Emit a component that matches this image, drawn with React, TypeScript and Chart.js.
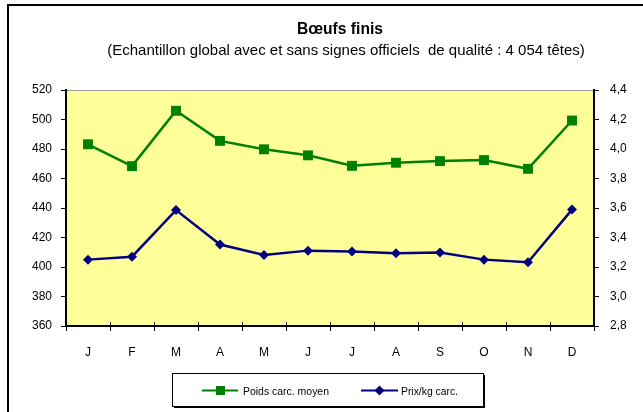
import React, { useEffect, useRef } from "react";
import { Chart, registerables } from "chart.js";
Chart.register(...registerables);

const months = ["J", "F", "M", "A", "M", "J", "J", "A", "S", "O", "N", "D"];
const poidsCarc = [483.2, 468.4, 505.9, 485.5, 479.8, 475.7, 468.6, 470.7, 471.8, 472.5, 466.6, 499.3];
const prixKg = [3.25, 3.27, 3.586, 3.352, 3.282, 3.311, 3.305, 3.293, 3.298, 3.25, 3.232, 3.589];
const leftMin = 360;
const leftMax = 520;
const leftStep = 20;
const rightMin = 2.8;
const rightMax = 4.4;
const rightStep = 0.2;
const titleText = "Bœufs finis";
const subtitleText = "(Echantillon global avec et sans signes officiels  de qualité : 4 054 têtes)";
const seriesNames = ["Poids carc. moyen", "Prix/kg carc."];

const FONT = "'Liberation Sans', Arial, sans-serif";
const GREEN = "#008000";
const NAVY = "#000080";

const decorPlugin = {
  id: "decor",
  beforeDraw(chart: any) {
    const { ctx, chartArea } = chart;
    ctx.save();
    ctx.fillStyle = "#ffffff";
    ctx.fillRect(0, 0, chart.width, chart.height);
    ctx.fillStyle = "#FFFF99";
    ctx.fillRect(chartArea.left, chartArea.top, chartArea.right - chartArea.left, chartArea.bottom - chartArea.top);
    ctx.strokeStyle = "#999999";
    ctx.lineWidth = 1;
    ctx.beginPath();
    ctx.moveTo(chartArea.left, chartArea.top + 0.5);
    ctx.lineTo(chartArea.right, chartArea.top + 0.5);
    ctx.stroke();
    ctx.restore();
  },
  afterDraw(chart: any) {
    const { ctx, chartArea } = chart;
    ctx.save();
    // outer frame
    ctx.strokeStyle = "#000";
    ctx.lineWidth = 2;
    ctx.strokeRect(8, 5, chart.width + 20, chart.height + 20);

    // upward part of x ticks
    const xs = chart.scales.x;
    ctx.lineWidth = 1;
    ctx.strokeStyle = "#000";
    for (let i = 0; i <= months.length; i++) {
      const px = Math.round(xs.getPixelForValue(i - 0.5)) + 0.5;
      ctx.beginPath();
      ctx.moveTo(px, chartArea.bottom - 4);
      ctx.lineTo(px, chartArea.bottom);
      ctx.stroke();
    }

    // title
    ctx.fillStyle = "#000";
    ctx.textAlign = "center";
    ctx.textBaseline = "middle";
    ctx.font = `bold 17px ${FONT}`;
    ctx.fillText(titleText, 340, 29, 86);
    ctx.font = `15px ${FONT}`;
    ctx.fillText(subtitleText, 346, 51, 478);

    // legend
    const lx = 172, ly = 373, lw = 311, lh = 33;
    ctx.fillStyle = "#fff";
    ctx.fillRect(lx, ly, lw, lh);
    ctx.strokeStyle = "#000";
    ctx.lineWidth = 1;
    ctx.strokeRect(lx + 0.5, ly + 0.5, lw, lh);
    ctx.lineWidth = 2;
    ctx.beginPath();
    ctx.moveTo(lx + lw + 1, ly + 2);
    ctx.lineTo(lx + lw + 1, ly + lh + 1);
    ctx.lineTo(lx + 2, ly + lh + 1);
    ctx.stroke();

    const cy = 390.5;
    ctx.lineWidth = 2;
    ctx.strokeStyle = GREEN;
    ctx.beginPath();
    ctx.moveTo(202, cy);
    ctx.lineTo(238, cy);
    ctx.stroke();
    ctx.fillStyle = GREEN;
    ctx.fillRect(216, cy - 4.5, 9, 9);

    ctx.strokeStyle = NAVY;
    ctx.beginPath();
    ctx.moveTo(361, cy);
    ctx.lineTo(398, cy);
    ctx.stroke();
    ctx.fillStyle = NAVY;
    ctx.beginPath();
    ctx.moveTo(379.5, cy - 5);
    ctx.lineTo(384.5, cy);
    ctx.lineTo(379.5, cy + 5);
    ctx.lineTo(374.5, cy);
    ctx.closePath();
    ctx.fill();

    ctx.fillStyle = "#000";
    ctx.textAlign = "left";
    ctx.font = `11px ${FONT}`;
    ctx.fillText(seriesNames[0], 243, cy + 1, 86);
    ctx.fillText(seriesNames[1], 401, cy + 1, 57);
    ctx.restore();
  },
};

export default function App() {
  const ref = useRef<HTMLCanvasElement>(null);
  useEffect(() => {
    if (!ref.current) return;
    const chart = new Chart(ref.current, {
      type: "line",
      data: {
        labels: months,
        datasets: [
          {
            label: seriesNames[0],
            data: poidsCarc,
            yAxisID: "y",
            borderColor: GREEN,
            backgroundColor: GREEN,
            borderWidth: 2.5,
            pointStyle: "rect",
            pointRadius: 7,
            pointBorderWidth: 0,
            tension: 0,
          },
          {
            label: seriesNames[1],
            data: prixKg,
            yAxisID: "y1",
            borderColor: NAVY,
            backgroundColor: NAVY,
            borderWidth: 2.5,
            pointStyle: "rectRot",
            pointRadius: 5,
            pointBorderWidth: 0,
            tension: 0,
          },
        ],
      },
      options: {
        responsive: false,
        animation: false,
        devicePixelRatio: 1,
        layout: { padding: { top: 90, left: 0, right: 0, bottom: 0 } },
        plugins: {
          legend: { display: false },
          title: { display: false },
          tooltip: { enabled: false },
        },
        scales: {
          x: {
            type: "category",
            offset: true,
            grid: {
              offset: true,
              drawOnChartArea: false,
              color: "#000",
              tickLength: 5,
              tickWidth: 1,
            },
            border: { display: true, color: "#000", width: 2 },
            ticks: {
              color: "#000",
              font: { family: FONT, size: 12 },
              padding: 14,
              maxRotation: 0,
              autoSkip: false,
            },
            afterFit: (s: any) => {
              s.height = 86;
            },
          },
          y: {
            position: "left",
            min: leftMin,
            max: leftMax,
            grid: { drawOnChartArea: false, color: "#000", tickLength: 5 },
            border: { display: true, color: "#000", width: 2 },
            ticks: {
              stepSize: leftStep,
              color: "#000",
              font: { family: FONT, size: 12 },
              padding: 9,
            },
            afterFit: (s: any) => {
              s.width = 66;
            },
          },
          y1: {
            position: "right",
            min: rightMin,
            max: rightMax,
            grid: { drawOnChartArea: false, color: "#000", tickLength: 5 },
            border: { display: true, color: "#000", width: 2 },
            ticks: {
              stepSize: rightStep,
              color: "#000",
              font: { family: FONT, size: 12 },
              padding: 11,
              callback: (v: any) => Number(v).toFixed(1).replace(".", ","),
            },
            afterFit: (s: any) => {
              s.width = 49;
            },
          },
        },
      },
      plugins: [decorPlugin],
    });
    return () => chart.destroy();
  }, []);
  return (
    <div style={{ position: "absolute", left: 0, top: 0, width: 643, height: 412 }}>
      <canvas ref={ref} width={643} height={412} style={{ display: "block" }} />
    </div>
  );
}
